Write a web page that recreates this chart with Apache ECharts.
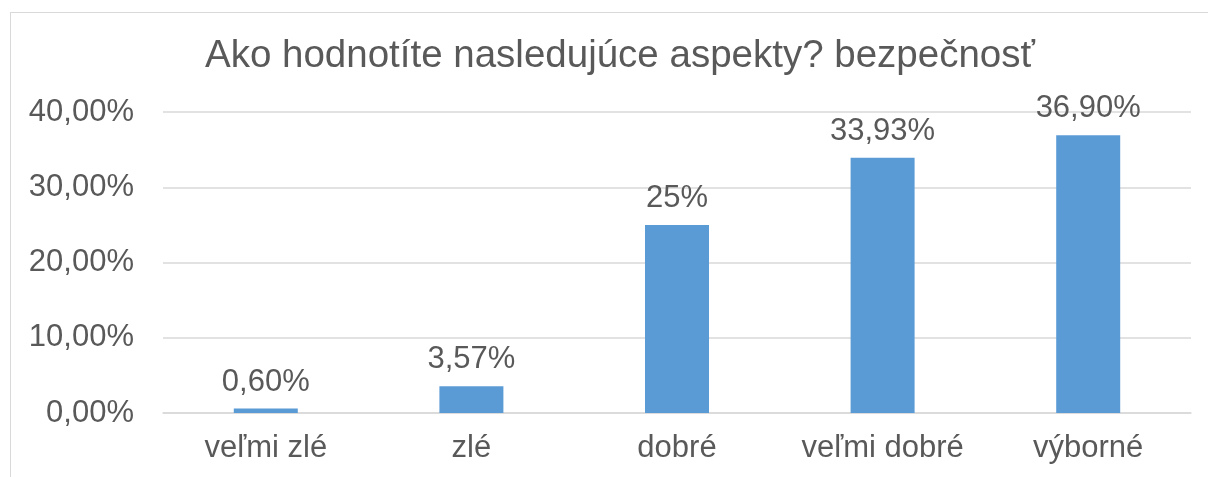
<!DOCTYPE html>
<html>
<head>
<meta charset="utf-8">
<script src="https://cdn.jsdelivr.net/npm/echarts@6/dist/echarts.min.js"></script>
<style>
    html,body{margin:0;padding:0;background:#fff;overflow:hidden;}
    #frame{position:absolute;left:10px;top:12px;width:1400px;height:700px;border:1px solid #d9d9d9;box-sizing:border-box;}
    #main{position:absolute;left:0;top:0;width:1208px;height:477px;}
</style>
</head>
<body>
<div id="frame"></div>
<div id="main"></div>
<script>
var categories = ['veľmi zlé', 'zlé', 'dobré', 'veľmi dobré', 'výborné'];
var values = [0.60, 3.57, 25, 33.93, 36.90];
var valueLabels = ['0,60%', '3,57%', '25%', '33,93%', '36,90%'];
var titleText = 'Ako hodnotíte nasledujúce aspekty? bezpečnosť';

var txtColor = '#595959';
var font = 'Liberation Sans, Arial, sans-serif';

var myChart = echarts.init(document.getElementById('main'));
var option = {
    animation: false,
    title: {
        text: titleText,
        left: 200,
        top: 32,
        textStyle: {color: txtColor, fontSize: 38.5, fontWeight: 'normal', fontFamily: font}
    },
    grid: {left: 163, right: 17, top: 112, bottom: 64},
    xAxis: {
        type: 'category',
        data: categories,
        axisLine: {show: true, lineStyle: {color: '#d9d9d9', width: 1.5}},
        axisTick: {show: false},
        axisLabel: {color: txtColor, fontSize: 31, fontFamily: font, margin: 20, interval: 0, hideOverlap: false}
    },
    yAxis: {
        type: 'value',
        min: 0,
        max: 40,
        interval: 10,
        axisLine: {show: false},
        axisTick: {show: false},
        splitLine: {lineStyle: {color: '#d9d9d9', width: 1.5}},
        axisLabel: {
            color: txtColor, fontSize: 31, fontFamily: font, margin: 29,
            formatter: function(v){ return v.toFixed(2).replace('.', ',') + '%'; }
        }
    },
    series: [{
        type: 'bar',
        data: values,
        barWidth: 64,
        itemStyle: {color: '#5b9bd5'},
        label: {
            show: true,
            position: 'top',
            distance: 11,
            color: txtColor,
            fontSize: 31,
            fontFamily: font,
            formatter: function(p){ return valueLabels[p.dataIndex]; }
        }
    }]
};
myChart.setOption(option);
</script>
</body>
</html>
